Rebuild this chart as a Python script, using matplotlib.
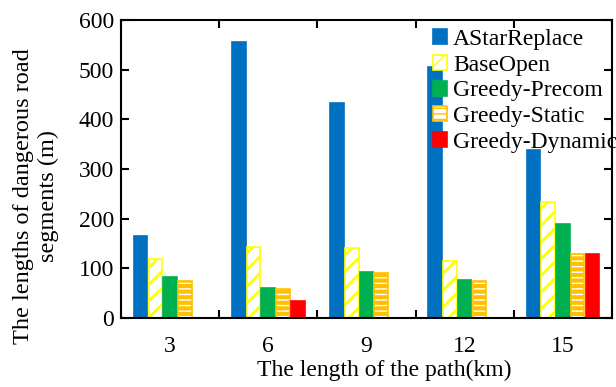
import matplotlib
matplotlib.use("Agg")
import matplotlib.pyplot as plt
import numpy as np

plt.rcParams["font.family"] = ["Liberation Serif", "DejaVu Serif"]

path_lengths = ["3", "6", "9", "12", "15"]
methods = ["AStarReplace", "BaseOpen", "Greedy-Precom", "Greedy-Static", "Greedy-Dynamic"]
astar_replace = [165, 556, 432, 506, 338]
base_open = [118, 143, 140, 115, 234]
greedy_precom = [82, 60, 92, 77, 190]
greedy_static = [74, 59, 90, 74, 128]
greedy_dynamic = [0, 34, 0, 0, 128]

series = [astar_replace, base_open, greedy_precom, greedy_static, greedy_dynamic]
# (fill, edge, hatch, hatch linewidth)
styles = [
    ("#0070C0", "#0070C0", None, 1.0),
    ("white", "#FFFF00", "//", 2.0),
    ("#00B050", "#00B050", None, 1.0),
    ("white", "#FFC000", "---", 3.0),
    ("#FF0000", "#FF0000", None, 1.0),
]


def main():
    fig = plt.figure(figsize=(6.16, 3.87), dpi=100)
    ax = fig.add_axes([0.1964, 0.1783, 0.797, 0.770])

    x = np.arange(len(path_lengths))
    w = 0.15
    for i, (vals, name, (fc, ec, hatch, hlw)) in enumerate(zip(series, methods, styles)):
        with plt.rc_context({"hatch.linewidth": hlw, "hatch.color": ec}):
            bars = ax.bar(x + (i - 2) * w, vals, w * 0.92, color=fc, edgecolor=ec,
                          hatch=hatch, linewidth=1.2, label=name)
        for b in bars:
            try:
                b.set_hatch_linewidth(hlw)
            except AttributeError:
                pass

    ax.set_xlim(-0.5, len(path_lengths) - 0.5)
    ax.set_ylim(0, 600)
    ax.set_yticks(range(0, 601, 100))
    ax.set_xticks(x)
    ax.set_xticklabels(path_lengths)
    # group separators as minor ticks
    ax.set_xticks(np.arange(len(path_lengths) + 1) - 0.5, minor=True)
    ax.tick_params(axis="x", which="major", length=0, labelsize=17, pad=13)
    ax.tick_params(axis="x", which="minor", direction="in", length=6, width=1.5,
                   top=True, bottom=True)
    ax.tick_params(axis="y", direction="in", length=6, width=1.5, labelsize=17,
                   right=True, pad=5)
    for s in ax.spines.values():
        s.set_linewidth(1.5)

    ax.set_xlabel("The length of the path(km)", fontsize=17)
    ax.xaxis.set_label_coords(0.536, -0.142)
    fig.text(36 / 616, 1 - 196 / 387, "The lengths of dangerous road\nsegments (m)",
             fontsize=17.5, rotation=90, ha="center", va="center", multialignment="center")

    ax.legend(loc="upper left", bbox_to_anchor=(433 / 616, 1 - 29 / 387),
              bbox_transform=fig.transFigure, frameon=False, fontsize=17,
              handlelength=0.6, handleheight=0.6, handletextpad=0.25,
              labelspacing=0.2, borderpad=0, borderaxespad=0)

    fig.savefig("out.png", dpi=100)


if __name__ == "__main__":
    main()
